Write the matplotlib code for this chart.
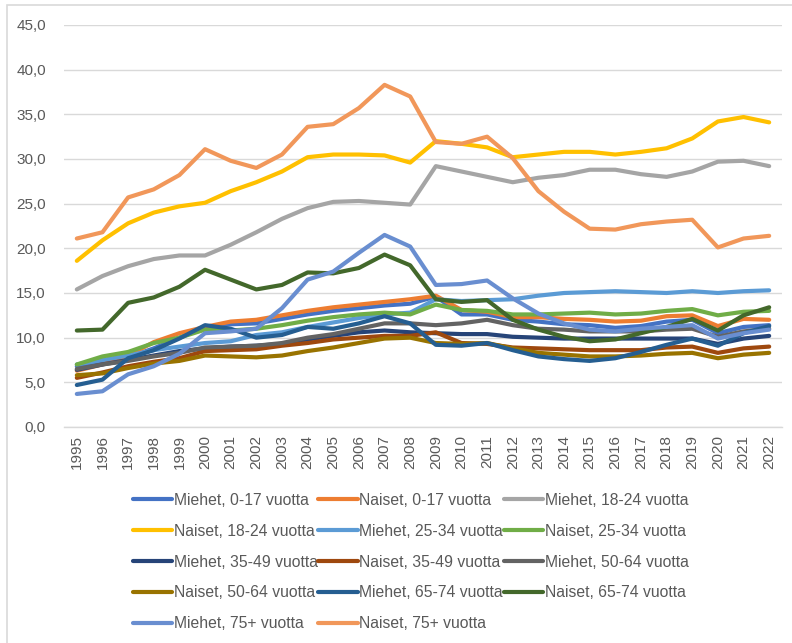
import matplotlib.pyplot as plt
from matplotlib.patches import Rectangle
import numpy as np

plt.rcParams['font.family'] = ['Liberation Sans', 'DejaVu Sans']

years = [str(y) for y in range(1995, 2023)]

miehet_0_17 = [6.8, 7.3, 7.8, 8.8, 10.0, 11.1, 11.5, 11.6, 12.1, 12.6, 13.0, 13.3, 13.6, 13.8,
               14.6, 12.6, 12.6, 12.0, 11.8, 11.5, 11.4, 11.1, 11.3, 11.8, 12.0, 10.5, 11.2, 11.4]
naiset_0_17 = [6.3, 7.0, 8.0, 9.5, 10.5, 11.2, 11.8, 12.0, 12.5, 13.0, 13.4, 13.7, 14.0, 14.3,
               14.7, 13.1, 12.9, 12.3, 12.3, 12.1, 12.0, 11.8, 11.9, 12.4, 12.5, 11.3, 12.1, 12.0]
miehet_18_24 = [15.4, 16.9, 18.0, 18.8, 19.2, 19.2, 20.4, 21.8, 23.3, 24.5, 25.2, 25.3, 25.1, 24.9,
                29.2, 28.6, 28.0, 27.4, 27.9, 28.2, 28.8, 28.8, 28.3, 28.0, 28.6, 29.7, 29.8, 29.2]
naiset_18_24 = [18.6, 20.9, 22.8, 24.0, 24.7, 25.1, 26.4, 27.4, 28.6, 30.2, 30.5, 30.5, 30.4, 29.6,
                32.0, 31.7, 31.3, 30.2, 30.5, 30.8, 30.8, 30.5, 30.8, 31.2, 32.3, 34.2, 34.7, 34.1]
miehet_25_34 = [7.0, 7.5, 8.0, 8.6, 9.0, 9.4, 9.6, 10.3, 10.6, 11.2, 11.7, 12.2, 12.6, 12.8,
                14.3, 14.1, 14.2, 14.3, 14.7, 15.0, 15.1, 15.2, 15.1, 15.0, 15.2, 15.0, 15.2, 15.3]
naiset_25_34 = [7.0, 7.9, 8.4, 9.4, 10.0, 10.9, 10.8, 11.0, 11.4, 11.9, 12.3, 12.6, 12.8, 12.6,
                13.7, 13.1, 13.0, 12.6, 12.6, 12.7, 12.8, 12.6, 12.7, 13.0, 13.2, 12.5, 12.9, 13.0]
miehet_35_49 = [6.4, 7.0, 7.5, 8.0, 8.5, 8.8, 9.0, 9.1, 9.3, 9.8, 10.2, 10.6, 10.8, 10.6,
                10.5, 10.4, 10.4, 10.1, 10.0, 9.9, 9.9, 9.9, 9.9, 9.9, 9.9, 9.3, 9.9, 10.2]
naiset_35_49 = [5.5, 6.1, 6.8, 7.3, 7.7, 8.5, 8.6, 8.7, 9.1, 9.4, 9.8, 10.0, 10.2, 10.2,
                10.6, 9.4, 9.3, 8.9, 8.8, 8.7, 8.6, 8.6, 8.6, 8.9, 9.0, 8.3, 8.8, 9.0]
miehet_50_64 = [6.5, 7.0, 7.4, 7.9, 8.3, 8.9, 9.0, 9.1, 9.4, 10.0, 10.4, 11.0, 11.6, 11.6,
                11.4, 11.6, 12.0, 11.4, 11.0, 10.9, 10.7, 10.7, 10.7, 10.9, 11.0, 10.1, 10.7, 11.0]
naiset_50_64 = [5.8, 6.0, 6.6, 7.1, 7.4, 8.0, 7.9, 7.8, 8.0, 8.5, 8.9, 9.4, 9.9, 10.0,
                9.4, 9.3, 9.4, 8.8, 8.3, 8.1, 7.9, 7.9, 8.0, 8.2, 8.3, 7.7, 8.1, 8.3]
miehet_65_74 = [4.7, 5.3, 7.7, 8.6, 9.9, 11.4, 11.0, 10.0, 10.3, 11.2, 11.0, 11.6, 12.4, 11.6,
                9.2, 9.1, 9.4, 8.6, 7.9, 7.6, 7.4, 7.7, 8.4, 9.2, 9.9, 9.1, 10.5, 11.3]
naiset_65_74 = [10.8, 10.9, 13.9, 14.5, 15.7, 17.6, 16.5, 15.4, 15.9, 17.3, 17.2, 17.8, 19.3, 18.1,
                14.3, 14.0, 14.2, 12.0, 10.9, 10.1, 9.6, 9.8, 10.5, 11.2, 12.1, 10.8, 12.5, 13.4]
miehet_75 = [3.7, 4.0, 5.9, 6.8, 8.2, 10.5, 10.7, 11.0, 13.3, 16.5, 17.4, 19.5, 21.5, 20.2,
             15.9, 16.0, 16.4, 14.4, 12.7, 11.6, 10.9, 10.7, 11.0, 11.2, 11.4, 9.9, 10.5, 10.9]
naiset_75 = [21.1, 21.8, 25.7, 26.6, 28.2, 31.1, 29.8, 29.0, 30.5, 33.6, 33.9, 35.7, 38.3, 37.0,
             31.9, 31.7, 32.5, 30.1, 26.4, 24.1, 22.2, 22.1, 22.7, 23.0, 23.2, 20.1, 21.1, 21.4]

labels = ['Miehet, 0-17 vuotta', 'Naiset, 0-17 vuotta', 'Miehet, 18-24 vuotta',
          'Naiset, 18-24 vuotta', 'Miehet, 25-34 vuotta', 'Naiset, 25-34 vuotta',
          'Miehet, 35-49 vuotta', 'Naiset, 35-49 vuotta', 'Miehet, 50-64 vuotta',
          'Naiset, 50-64 vuotta', 'Miehet, 65-74 vuotta', 'Naiset, 65-74 vuotta',
          'Miehet, 75+ vuotta', 'Naiset, 75+ vuotta']
series = [miehet_0_17, naiset_0_17, miehet_18_24, naiset_18_24, miehet_25_34, naiset_25_34,
          miehet_35_49, naiset_35_49, miehet_50_64, naiset_50_64, miehet_65_74, naiset_65_74,
          miehet_75, naiset_75]
colors = ['#4472C4', '#ED7D31', '#A5A5A5', '#FFC000', '#5B9BD5', '#70AD47',
          '#264478', '#9E480E', '#636363', '#997300', '#255E91', '#43682B',
          '#698ED0', '#F1975A']

fig = plt.figure(figsize=(7.92, 6.43), dpi=100)
ax = fig.add_axes([64 / 792, 1 - 427 / 643, 718 / 792, 402 / 643])

x = np.arange(len(years))
handles = []
for vals, lab, col in zip(series, labels, colors):
    h, = ax.plot(x, vals, color=col, lw=3, label=lab, solid_capstyle='round',
                 solid_joinstyle='round')
    handles.append(h)

ax.set_xlim(-0.5, len(years) - 0.5)
ax.set_ylim(0, 45)
ax.set_yticks(np.arange(0, 46, 5))
ax.set_yticklabels([f'{v:.1f}'.replace('.', ',') for v in np.arange(0, 46, 5)])
ax.set_xticks(x)
ax.set_xticklabels(years, rotation=90)
ax.tick_params(length=0, colors='#595959', labelsize=11)
ax.tick_params(axis='y', pad=13)
ax.tick_params(axis='x', pad=6)
ax.grid(axis='y', color='#D9D9D9', lw=1)
ax.set_axisbelow(True)
for s in ['top', 'right', 'left']:
    ax.spines[s].set_visible(False)
ax.spines['bottom'].set_color('#D9D9D9')
ax.spines['bottom'].set_linewidth(1)

# Excel fills the legend row by row, matplotlib column by column
order = [0, 3, 6, 9, 12, 1, 4, 7, 10, 13, 2, 5, 8, 11]
fig.legend([handles[i] for i in order], [labels[i] for i in order], ncol=3,
           loc='upper left', bbox_to_anchor=(125 / 792, 1 - 485 / 643), frameon=False,
           fontsize=11.3, labelcolor='#595959', handlelength=2.5, handletextpad=0.1,
           columnspacing=0.05, labelspacing=1.01, borderpad=0)

fig.patches.append(Rectangle((7 / 792, -0.05), 1.1, 1 - 5 / 643 + 0.05,
                             transform=fig.transFigure, fill=False,
                             edgecolor='#D9D9D9', lw=1.2))

fig.savefig('out.png', dpi=100)
